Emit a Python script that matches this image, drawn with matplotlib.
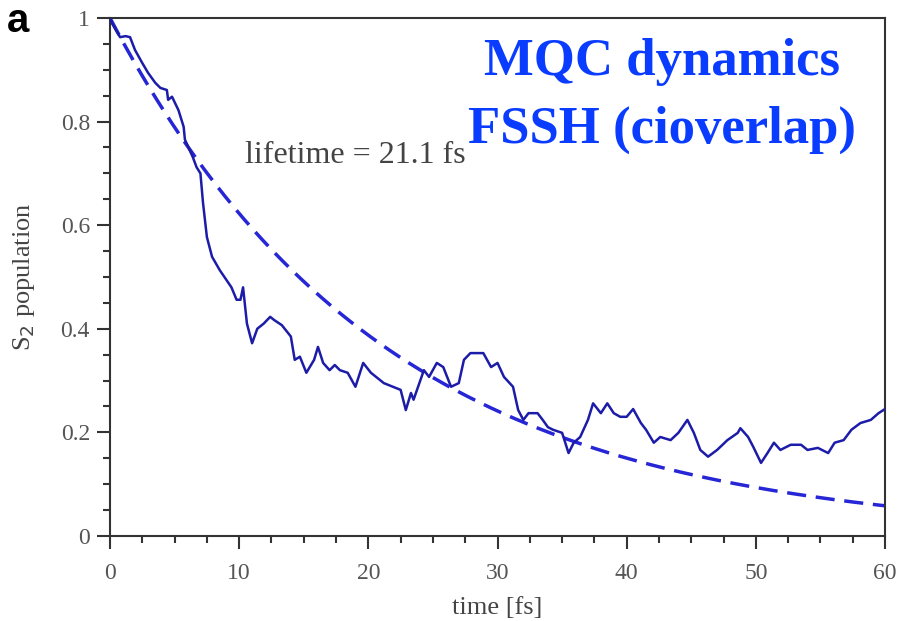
import numpy as np
import matplotlib
matplotlib.use("Agg")
import matplotlib.pyplot as plt
from matplotlib.ticker import MultipleLocator

# S2 population from the FSSH (cioverlap) trajectory ensemble
time_fs = [0, 0.15, 0.78, 1.2, 1.55, 1.94, 2.5, 2.95, 3.5, 3.9, 4.4, 4.5, 4.8, 5.3,
           5.7, 5.8, 6.4, 6.7, 7.0, 7.2, 7.5, 7.9, 8.5, 9.4, 9.8,
           10.1, 10.3, 10.6, 11.0, 11.4, 11.9, 12.4, 12.7, 13.3, 14.0, 14.3, 14.7,
           15.2, 15.8, 16.1, 16.5, 17.0, 17.4, 17.8, 18.4, 19.0, 19.6, 20.2, 20.9,
           21.2, 21.9, 22.5, 22.9, 23.3, 23.5, 24.3, 24.7, 25.3, 25.8, 26.4, 27.0,
           27.4, 27.9, 28.4, 28.9, 29.5, 30.0, 30.5, 31.2, 31.6, 32.0, 32.4, 33.1,
           33.5, 33.9, 34.3, 35.0, 35.5, 35.9, 36.4, 37.0, 37.4, 38.0, 38.5, 39.0,
           39.5, 40.0, 40.5, 41.1, 41.5, 42.1, 42.6, 43.4, 44.0, 44.7, 45.2, 45.7,
           46.3, 47.0, 47.8, 48.6, 48.8, 49.4, 49.8, 50.4, 50.9, 51.4, 51.9, 52.7,
           53.5, 54.0, 54.8, 55.6, 56.1, 56.8, 57.4, 58.1, 58.9, 59.5, 60.0]
s2_population = [1.0, 0.99, 0.963, 0.965, 0.963, 0.938, 0.913, 0.894, 0.875, 0.865,
                 0.861, 0.842, 0.848, 0.822, 0.79, 0.765, 0.732, 0.712, 0.70, 0.643,
                 0.577, 0.539, 0.513, 0.48, 0.456,
                 0.456, 0.48, 0.41, 0.372, 0.40, 0.41, 0.423, 0.417, 0.407, 0.385, 0.34,
                 0.346, 0.315, 0.34, 0.365, 0.334, 0.32, 0.33, 0.32, 0.315, 0.288,
                 0.334, 0.315, 0.301, 0.295, 0.288, 0.282, 0.243, 0.276, 0.263, 0.32,
                 0.307, 0.334, 0.326, 0.288, 0.295, 0.34, 0.353, 0.353, 0.353, 0.326,
                 0.334, 0.307, 0.288, 0.243, 0.224, 0.237, 0.237, 0.224, 0.21, 0.205,
                 0.199, 0.16, 0.18, 0.191, 0.224, 0.256, 0.237, 0.256, 0.237, 0.23,
                 0.23, 0.245, 0.218, 0.205, 0.18, 0.191, 0.185, 0.199, 0.224, 0.199,
                 0.166, 0.153, 0.166, 0.185, 0.199, 0.208, 0.191, 0.172, 0.141, 0.16,
                 0.18, 0.166, 0.176, 0.176, 0.166, 0.17, 0.16, 0.18, 0.185, 0.205,
                 0.218, 0.224, 0.237, 0.245]

# Exponential fit
lifetime_fs = 21.1

x_ticks = [0, 10, 20, 30, 40, 50, 60]
y_ticks = [0, 0.2, 0.4, 0.6, 0.8, 1]
y_tick_labels = ["0", "0.2", "0.4", "0.6", "0.8", "1"]

serif = ["Liberation Serif", "DejaVu Serif"]
plt.rcParams["font.family"] = serif

fig = plt.figure(figsize=(9.04, 6.21), dpi=100)
ax = fig.add_axes([0.1217, 0.137, 0.8573, 0.834])

ax.plot(time_fs, s2_population, color="#1c1ca8", lw=1.8, zorder=3)
t_fit = np.linspace(0, 60, 400)
ax.plot(t_fit, np.exp(-t_fit / lifetime_fs), color="#2626d6", lw=2.5,
        dashes=(5.5, 2.8), zorder=2)

ax.set_xlim(0, 60)
ax.set_ylim(0, 1)
ax.set_xticks(x_ticks)
ax.set_yticks(y_ticks)
ax.set_yticklabels(y_tick_labels)
ax.xaxis.set_minor_locator(MultipleLocator(2.5))
ax.yaxis.set_minor_locator(MultipleLocator(0.05))
ax.tick_params(which="major", direction="out", length=9.5, width=1.5,
               color="#333333", labelcolor="#555555", labelsize=17)
ax.tick_params(which="minor", direction="out", length=5, width=1.5, color="#333333")
ax.tick_params(axis="y", pad=5)
ax.tick_params(axis="x", pad=10)
ax.tick_params(top=False, right=False, which="both")
for sp in ax.spines.values():
    sp.set_linewidth(1.5)
    sp.set_color("#333333")

ax.set_xlabel("time [fs]", fontsize=19, color="#444444", labelpad=9)
ax.set_ylabel("S$_2$ population", fontsize=19, color="#444444", labelpad=17)

ax.text(0.174, 0.72, "lifetime = 21.1 fs", transform=ax.transAxes,
        fontsize=23, color="#444444", ha="left", va="baseline")

fig.text(0.008, 0.948, "a", fontsize=29, fontweight="bold",
         family=["Liberation Sans", "DejaVu Sans"], ha="left", va="baseline")

fig.text(0.732, 0.879, "MQC dynamics", fontsize=38, fontweight="bold",
         color="#0a3cff", ha="center", va="baseline")
fig.text(0.732, 0.771, "FSSH (cioverlap)", fontsize=38, fontweight="bold",
         color="#0a3cff", ha="center", va="baseline")

fig.savefig("out.png", dpi=100)
